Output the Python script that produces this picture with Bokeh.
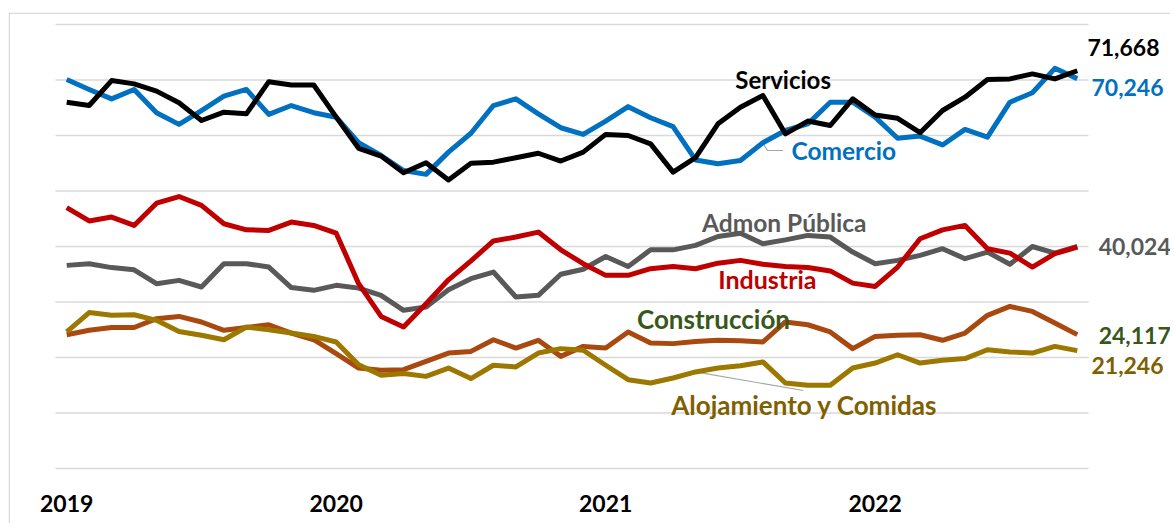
from bokeh.plotting import figure
from bokeh.models import Label, Span, Range1d
from bokeh.core.properties import value
from bokeh.embed import file_html
from bokeh.resources import INLINE

# ---- data (monthly, Jan 2019 .. Oct 2022) ----
years = ["2019", "2020", "2021", "2022"]
year_index = [0, 12, 24, 36]

comercio = [70100, 68300, 66600, 68300, 64100, 62000, 64500, 67100, 68300, 63800, 65400, 64100,
            63300, 58700, 56400, 53700, 53000, 57000, 60400, 65400, 66600, 63900, 61400, 60200,
            62600, 65200, 63200, 61600, 55600, 54900, 55500, 58700, 60900, 62100, 66000, 66000,
            63300, 59500, 59900, 58300, 61100, 59700, 66000, 67700, 72100, 70246]
servicios = [66000, 65400, 69900, 69300, 68000, 65900, 62700, 64200, 63900, 69700, 69100, 69100,
             63300, 57700, 56300, 53300, 55100, 52000, 55000, 55200, 56000, 56800, 55400, 57000,
             60200, 60000, 58500, 53400, 56000, 62100, 65100, 67200, 60300, 62600, 61800, 66600,
             63700, 63100, 60500, 64500, 66900, 70100, 70200, 71100, 70200, 71668]
industria = [47000, 44600, 45300, 43800, 47800, 49000, 47400, 44100, 43000, 42900, 44400, 43800,
             42400, 33300, 27400, 25500, 29700, 34000, 37400, 41000, 41700, 42600, 39400, 36900,
             34800, 34800, 36000, 36400, 36000, 37000, 37500, 36800, 36400, 36200, 35600, 33400,
             32800, 36300, 41400, 43000, 43800, 39600, 38800, 36300, 38700, 39900]
admon = [36600, 36900, 36200, 35800, 33300, 33900, 32700, 36900, 36900, 36300, 32600, 32100,
         33000, 32500, 31200, 28500, 29100, 32200, 34200, 35400, 30900, 31200, 35000, 35900,
         38200, 36400, 39400, 39400, 40200, 41800, 42400, 40500, 41200, 42000, 41700, 39000,
         36900, 37500, 38400, 39600, 37800, 39000, 36800, 40000, 38800, 40024]
construccion = [24100, 24900, 25400, 25400, 27000, 27400, 26400, 24900, 25400, 25900, 24400, 23200,
                20700, 18100, 17700, 17800, 19300, 20800, 21100, 23200, 21700, 23100, 20200, 22000,
                21700, 24600, 22600, 22500, 22900, 23100, 23000, 22800, 26400, 25900, 24600, 21600,
                23800, 24000, 24100, 23100, 24400, 27600, 29200, 28300, 26200, 24117]
alojamiento = [24600, 28100, 27600, 27700, 26700, 24700, 24000, 23200, 25500, 25000, 24400, 23800,
               22800, 18700, 16800, 17100, 16600, 18100, 16200, 18600, 18300, 20800, 21600, 21300,
               18600, 16000, 15400, 16300, 17400, 18100, 18500, 19200, 15400, 15000, 15000, 18100,
               19000, 20500, 19000, 19500, 19800, 21400, 21000, 20800, 22000, 21246]
grid_values = [0, 10000, 20000, 30000, 40000, 50000, 60000, 70000, 80000]

x = list(range(len(comercio)))
FONT = "Lato"

xr = Range1d(-2.592, 49.15)
yr = Range1d(-9910, 82162)
p = figure(width=1170, height=523, output_backend="svg", toolbar_location=None,
           x_range=xr, y_range=yr,
           min_border_left=8, min_border_right=0, min_border_top=12, min_border_bottom=0,
           background_fill_color="white", border_fill_color="white")
p.outline_line_color = None
p.xaxis.visible = False
p.yaxis.visible = False
p.grid.visible = False

# horizontal gridlines spanning the category band
n = len(x)
p.segment(x0=[-0.5] * len(grid_values), x1=[n - 0.5] * len(grid_values),
          y0=grid_values, y1=grid_values, line_color="#d9d9d9", line_width=1.5)

# outer chart border (top and left)
p.add_layout(Span(location=xr.start + 0.035, dimension="height",
                  line_color="#d9d9d9", line_width=1.5))
p.add_layout(Span(location=yr.end - 140, dimension="width",
                  line_color="#d9d9d9", line_width=1.5))

# year labels
p.text(x=year_index, y=[-6300] * len(years), text=years, text_font=value(FONT),
       text_font_style="bold", text_font_size="23px", text_color="black",
       text_align="center", text_baseline="middle")

# leader lines
p.line([31, 31.2, 31.9], [comercio[31], 57300, 57300], line_color="#a6a6a6", line_width=1.2)
p.line([28, 32.8], [alojamiento[28], 14050], line_color="#a6a6a6", line_width=1.2)

LW = 5
p.line(x, admon, line_color="#595959", line_width=LW, line_join="round")
p.line(x, industria, line_color="#c00000", line_width=LW, line_join="round")
p.line(x, construccion, line_color="#a9490f", line_width=LW, line_join="round")
p.line(x, alojamiento, line_color="#9c7800", line_width=LW, line_join="round")
p.line(x, comercio, line_color="#0070c0", line_width=LW, line_join="round")
p.line(x, servicios, line_color="#000000", line_width=LW, line_join="round")


def lab(xx, yy, text, color, size, align="center"):
    p.add_layout(Label(x=xx, y=yy, text=text, text_font=FONT, text_font_style="bold",
                       text_font_size=size, text_color=color, text_align=align,
                       text_baseline="middle"))


lab(31.9, 70090, "Servicios", "#000000", "24px")
lab(34.6, 57300, "Comercio", "#0070c0", "24.5px")
lab(31.95, 44320, "Admon Pública", "#595959", "24.5px")
lab(31.2, 34230, "Industria", "#c00000", "25px")
lab(28.8, 26850, "Construcción", "#38571a", "26px")
lab(32.85, 11530, "Alojamiento y Comidas", "#7f6000", "26px")

lab(45.45, 75860, f"{servicios[-1]:,}", "#000000", "23px", "left")
lab(45.63, 68650, f"{comercio[-1]:,}", "#0070c0", "23px", "left")
lab(45.95, 40000, f"{admon[-1]:,}", "#595959", "23px", "left")
lab(45.95, 23960, f"{construccion[-1]:,}", "#38571a", "23px", "left")
lab(45.63, 18560, f"{alojamiento[-1]:,}", "#7f6000", "23px", "left")

open("out.html", "w").write(file_html(p, INLINE))
